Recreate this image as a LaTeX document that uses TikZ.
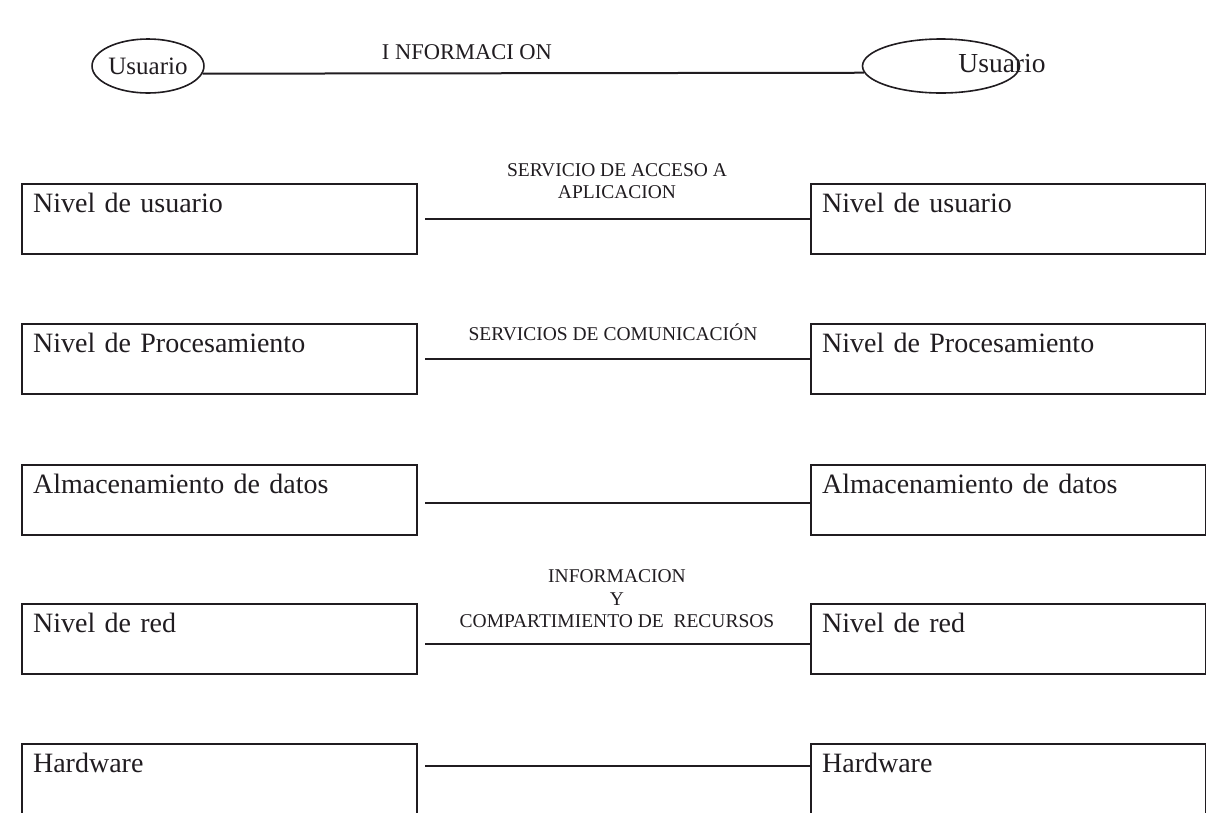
\documentclass[tikz,border=0pt]{standalone}
\usepackage{fontspec}
\setmainfont{Liberation Serif}
\usetikzlibrary{shapes.geometric}
\definecolor{tinta}{RGB}{32, 28, 32}

\begin{document}
\begin{tikzpicture}[x=1pt, y=-1pt, tinta, line width=2pt,
  caja/.style={draw, rectangle, anchor=north west, align=left,
    text width=373pt, inner xsep=11pt, inner ysep=9pt,
    text height=19pt, text depth=33pt, line width=2.2pt,
    font=\fontsize{28}{32}\selectfont},
  usr/.style={draw, ellipse, inner sep=0pt, line width=1.6pt},
  rotulo/.style={align=center, inner sep=0pt,
    font=\fontsize{19.5}{22.5}\selectfont},
  enlace/.style={line width=2pt}]
  \useasboundingbox (0, 0) rectangle (1206, 812);

  % usuarios
  \node[usr, minimum width=110pt, minimum height=54pt,
        font=\fontsize{25}{28}\selectfont] (ul) at (148, 66) {Usuario};
  \node[usr, minimum width=157pt, minimum height=54pt] (ur) at (941, 66) {};
  \node[font=\fontsize{27.5}{30}\selectfont, inner sep=0pt] (urt) at (1002, 64) {Usuario};
  \node[font=\fontsize{22.5}{26}\selectfont, inner sep=0pt] (info) at (467, 52) {I NFORMACI ON};
  \draw[enlace] (ul.-8) -- (ur.185);

  % niveles
  \node[caja] (lus) at (21, 183) {Nivel de usuario};
  \node[caja] (rus) at (810, 183) {Nivel de usuario};
  \node[caja] (lpro) at (21, 323) {Nivel de Procesamiento};
  \node[caja] (rpro) at (810, 323) {Nivel de Procesamiento};
  \node[caja] (lalm) at (21, 464) {Almacenamiento de datos};
  \node[caja] (ralm) at (810, 464) {Almacenamiento de datos};
  \node[caja] (lred) at (21, 603) {Nivel de red};
  \node[caja] (rred) at (810, 603) {Nivel de red};
  \node[caja] (lhw) at (21, 743) {Hardware};
  \node[caja] (rhw) at (810, 743) {Hardware};

  % servicios entre niveles
  \draw[enlace] ([xshift=7pt]lus.east) -- (rus.west);
  \draw[enlace] ([xshift=7pt]lpro.east) -- (rpro.west);
  \draw[enlace] ([xshift=7pt, yshift=-3pt]lalm.east) -- ([yshift=-3pt]ralm.west);
  \draw[enlace] ([xshift=7pt, yshift=-5pt]lred.east) -- ([yshift=-5pt]rred.west);
  \draw[enlace] ([xshift=7pt, yshift=13pt]lhw.east) -- ([yshift=13pt]rhw.west);

  \node[rotulo] (acceso) at (617, 181) {SERVICIO DE ACCESO A\\APLICACION};
  \node[rotulo] (comun) at (613, 332) {SERVICIOS DE COMUNICACIÓN};
  \node[rotulo] (recursos) at (617, 599) {INFORMACION\\Y\\COMPARTIMIENTO DE\ \ RECURSOS};
\end{tikzpicture}
\end{document}
